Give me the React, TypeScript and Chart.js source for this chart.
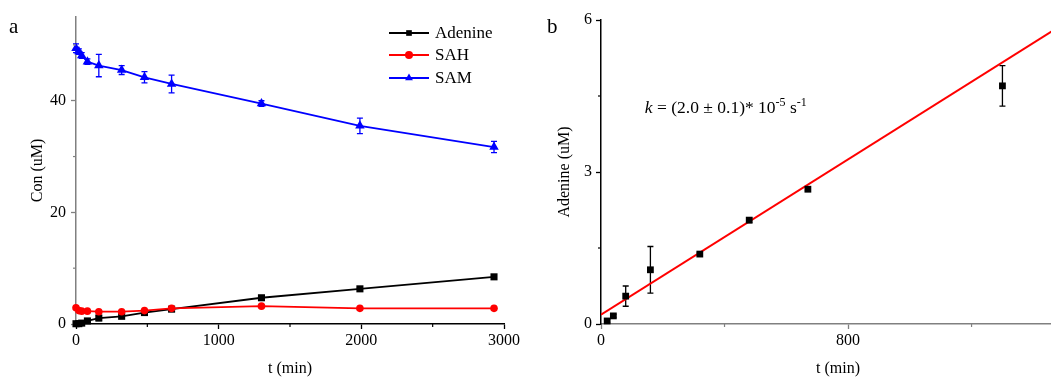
import React, { useEffect, useRef } from "react";
import { Chart, registerables } from "chart.js";

Chart.register(...registerables);

// ---------- data ----------
const times = [0, 20, 40, 80, 160, 320, 480, 670, 1300, 1990, 2930];
const adenine = [0.05, 0.06, 0.16, 0.55, 1.07, 1.38, 2.05, 2.66, 4.7, 6.3, 8.45];
const adenineErr = [0.05, 0.03, 0.03, 0.2, 0.46, 0.03, 0.05, 0.05, 0.4, 0.2, 0.2];
const sah = [2.9, 2.4, 2.3, 2.3, 2.2, 2.2, 2.4, 2.8, 3.2, 2.8, 2.8];
const sahErr = [0.2, 0.1, 0.1, 0.1, 0.1, 0.1, 0.1, 0.1, 0.1, 0.1, 0.1];
const sam = [49.4, 48.8, 48.1, 47.0, 46.3, 45.5, 44.2, 43.0, 39.5, 35.5, 31.7];
const samErr = [0.8, 0.5, 0.5, 0.5, 2.0, 0.8, 1.0, 1.6, 0.5, 1.4, 1.0];

const rateTimes = [20, 40, 80, 160, 320, 480, 670, 1300];
const rateAdenine = [0.06, 0.16, 0.55, 1.07, 1.38, 2.05, 2.66, 4.7];
const rateErr = [0.03, 0.03, 0.2, 0.46, 0.03, 0.05, 0.03, 0.4];
const fitIntercept = 0.185;
const fitSlope = 0.00383;

const seriesNames = ["Adenine", "SAH", "SAM"];
const seriesColors = ["#000000", "#ff0000", "#0000ff"];
const seriesStyles = ["rect", "circle", "triangle"];

const leftXTicks = [0, 1000, 2000, 3000];
const leftXMinor = [500, 1500, 2500];
const leftYTicks = [0, 20, 40];
const leftYMinor = [10, 30, 50];
const rightXTicks = [0, 800];
const rightXMinor = [400, 1200];
const rightYTicks = [0, 3, 6];
const rightYMinor = [1.5, 4.5];

const FONT = "'Liberation Serif', 'Times New Roman', serif";

function drawMarker(ctx: CanvasRenderingContext2D, style: string, x: number, y: number, r: number, color: string) {
  ctx.save();
  ctx.fillStyle = color;
  ctx.beginPath();
  if (style === "rect") {
    const s = r * Math.SQRT1_2;
    ctx.rect(x - s, y - s, 2 * s, 2 * s);
  } else if (style === "circle") {
    ctx.arc(x, y, r, 0, Math.PI * 2);
  } else {
    ctx.moveTo(x, y - r);
    ctx.lineTo(x + r * Math.cos(Math.PI / 6), y + r * Math.sin(Math.PI / 6));
    ctx.lineTo(x - r * Math.cos(Math.PI / 6), y + r * Math.sin(Math.PI / 6));
    ctx.closePath();
  }
  ctx.fill();
  ctx.restore();
}

const errorBarPlugin = {
  id: "errorBars",
  beforeDatasetsDraw(chart: any) {
    const ctx = chart.ctx;
    const xs = chart.scales.x;
    const ys = chart.scales.y;
    chart.data.datasets.forEach((ds: any) => {
      if (!ds.errors) return;
      ctx.save();
      ctx.strokeStyle = ds.borderColor;
      ctx.lineWidth = 1.3;
      ds.data.forEach((p: any, i: number) => {
        const e = ds.errors[i];
        if (!e) return;
        const x = xs.getPixelForValue(p.x);
        const y1 = ys.getPixelForValue(p.y + e);
        const y2 = ys.getPixelForValue(p.y - e);
        ctx.beginPath();
        ctx.moveTo(x, y1);
        ctx.lineTo(x, y2);
        ctx.moveTo(x - 3, y1);
        ctx.lineTo(x + 3, y1);
        ctx.moveTo(x - 3, y2);
        ctx.lineTo(x + 3, y2);
        ctx.stroke();
      });
      ctx.restore();
    });
  },
};

function minorTickPlugin(xMinor: number[], yMinor: number[], xColor: string, yColor: string) {
  return {
    id: "minorTicks",
    afterDraw(chart: any) {
      const ctx = chart.ctx;
      const { left, bottom } = chart.chartArea;
      ctx.save();
      ctx.lineWidth = 1.2;
      ctx.strokeStyle = xColor;
      xMinor.forEach((v) => {
        const x = chart.scales.x.getPixelForValue(v);
        ctx.beginPath();
        ctx.moveTo(x, bottom);
        ctx.lineTo(x, bottom + 3);
        ctx.stroke();
      });
      ctx.strokeStyle = yColor;
      yMinor.forEach((v) => {
        const y = chart.scales.y.getPixelForValue(v);
        ctx.beginPath();
        ctx.moveTo(left, y);
        ctx.lineTo(left - 3, y);
        ctx.stroke();
      });
      ctx.restore();
    },
  };
}

const leftLegendPlugin = {
  id: "leftLegend",
  afterDraw(chart: any) {
    const ctx = chart.ctx;
    ctx.save();
    const rows = [33, 55, 78];
    seriesNames.forEach((name, i) => {
      const y = rows[i];
      ctx.strokeStyle = seriesColors[i];
      ctx.lineWidth = 1.8;
      ctx.beginPath();
      ctx.moveTo(389, y);
      ctx.lineTo(429, y);
      ctx.stroke();
      drawMarker(ctx, seriesStyles[i], 409, y, i === 2 ? 4.5 : 4, seriesColors[i]);
      ctx.fillStyle = "#000";
      ctx.font = `17px ${FONT}`;
      ctx.textBaseline = "middle";
      ctx.textAlign = "left";
      ctx.fillText(name, 435, y + 1);
    });
    ctx.font = `21px ${FONT}`;
    ctx.textBaseline = "alphabetic";
    ctx.fillText("a", 9, 33);
    ctx.restore();
  },
};

const rightTextPlugin = {
  id: "rightText",
  afterDraw(chart: any) {
    const ctx = chart.ctx;
    ctx.save();
    ctx.fillStyle = "#000";
    ctx.textBaseline = "alphabetic";
    ctx.textAlign = "left";
    ctx.font = `21px ${FONT}`;
    ctx.fillText("b", 27, 33);
    let x = chart.scales.x.getPixelForValue(142);
    const y = chart.scales.y.getPixelForValue(4.16);
    const parts: [string, string, number][] = [
      ["k", `italic 17.5px ${FONT}`, 0],
      [" = (2.0 ± 0.1)* 10", `17.5px ${FONT}`, 0],
      ["-5", `12px ${FONT}`, -7],
      [" s", `17.5px ${FONT}`, 0],
      ["-1", `12px ${FONT}`, -7],
    ];
    parts.forEach(([t, f, dy]) => {
      ctx.font = f;
      ctx.fillText(t, x, y + dy);
      x += ctx.measureText(t).width;
    });
    ctx.restore();
  },
};

function axisCommon(
  ticksArr: number[],
  color: string,
  isX: boolean,
  size: number,
  title: string,
  titlePad: number,
  labelPad: number
) {
  return {
    type: "linear",
    afterBuildTicks: (s: any) => {
      s.ticks = ticksArr.map((value) => ({ value }));
    },
    afterFit: (s: any) => {
      if (isX) s.height = size;
      else s.width = size;
    },
    border: { color, width: 1.5 },
    grid: { drawOnChartArea: false, drawTicks: true, tickLength: 5, tickColor: color, tickWidth: 1.3 },
    ticks: {
      color: "#000",
      font: { family: FONT, size: 16 },
      padding: labelPad,
      maxRotation: 0,
      autoSkip: false,
      callback: (v: any) => String(v),
    },
    title: {
      display: true,
      text: title,
      color: "#000",
      font: { family: FONT, size: 16 },
      padding: isX ? { top: 0, bottom: titlePad } : { top: titlePad, bottom: 0 },
    },
  };
}

export default function App() {
  const leftRef = useRef<HTMLCanvasElement>(null);
  const rightRef = useRef<HTMLCanvasElement>(null);

  useEffect(() => {
    const seriesVals = [adenine, sah, sam];
    const seriesErrs = [adenineErr, sahErr, samErr];
    const radii = [5, 3.8, 5.5];
    const left = new Chart(leftRef.current as HTMLCanvasElement, {
      type: "line",
      data: {
        datasets: seriesNames.map((name, i) => ({
          label: name,
          data: times.map((t, j) => ({ x: t, y: seriesVals[i][j] })),
          errors: seriesErrs[i],
          borderColor: seriesColors[i],
          backgroundColor: seriesColors[i],
          borderWidth: 1.8,
          pointStyle: seriesStyles[i],
          pointRadius: radii[i],
          pointBorderWidth: 0,
          order: 3 - i,
          clip: false,
          tension: 0,
        })) as any,
      },
      options: {
        animation: false,
        responsive: false,
        layout: { padding: { top: 17, right: 41, left: 0, bottom: 0 } },
        plugins: { legend: { display: false }, tooltip: { enabled: false } },
        scales: {
          x: { ...axisCommon(leftXTicks, "#000", true, 57, "t (min)", 3, 2), min: 0, max: 3000 } as any,
          y: { ...axisCommon(leftYTicks, "#808080", false, 76, "Con (uM)", 28, 5), min: 0, max: 55 } as any,
        },
      },
      plugins: [errorBarPlugin, minorTickPlugin(leftXMinor, leftYMinor, "#000", "#808080"), leftLegendPlugin],
    });

    const xMax = 1535;
    const right = new Chart(rightRef.current as HTMLCanvasElement, {
      type: "line",
      data: {
        datasets: [
          {
            label: "Adenine",
            data: rateTimes.map((t, j) => ({ x: t, y: rateAdenine[j] })),
            errors: rateErr,
            showLine: false,
            borderColor: "#000",
            backgroundColor: "#000",
            pointStyle: "rect",
            pointRadius: 4.8,
            pointBorderWidth: 0,
            clip: false,
          },
          {
            label: "Fit",
            data: [
              { x: 0, y: fitIntercept },
              { x: xMax, y: fitIntercept + fitSlope * xMax },
            ],
            borderColor: "#ff0000",
            borderWidth: 2,
            pointRadius: 0,
          },
        ] as any,
      },
      options: {
        animation: false,
        responsive: false,
        layout: { padding: { top: 20, right: 5, left: 0, bottom: 0 } },
        plugins: { legend: { display: false }, tooltip: { enabled: false } },
        scales: {
          x: { ...axisCommon(rightXTicks, "#808080", true, 57, "t (min)", 3, 2), min: 0, max: xMax } as any,
          y: { ...axisCommon(rightYTicks, "#000", false, 81, "Adenine (uM)", 35, 4), min: 0, max: 6 } as any,
        },
      },
      plugins: [errorBarPlugin, minorTickPlugin(rightXMinor, rightYMinor, "#808080", "#000"), rightTextPlugin],
    });

    return () => {
      left.destroy();
      right.destroy();
    };
  }, []);

  return (
    <div
      style={{
        position: "fixed",
        left: 0,
        top: 0,
        width: 1051,
        height: 381,
        overflow: "hidden",
        background: "#fff",
      }}
    >
      <canvas ref={leftRef} width={545} height={381} style={{ position: "absolute", left: 0, top: 0 }} />
      <canvas ref={rightRef} width={560} height={381} style={{ position: "absolute", left: 520, top: 0 }} />
    </div>
  );
}
